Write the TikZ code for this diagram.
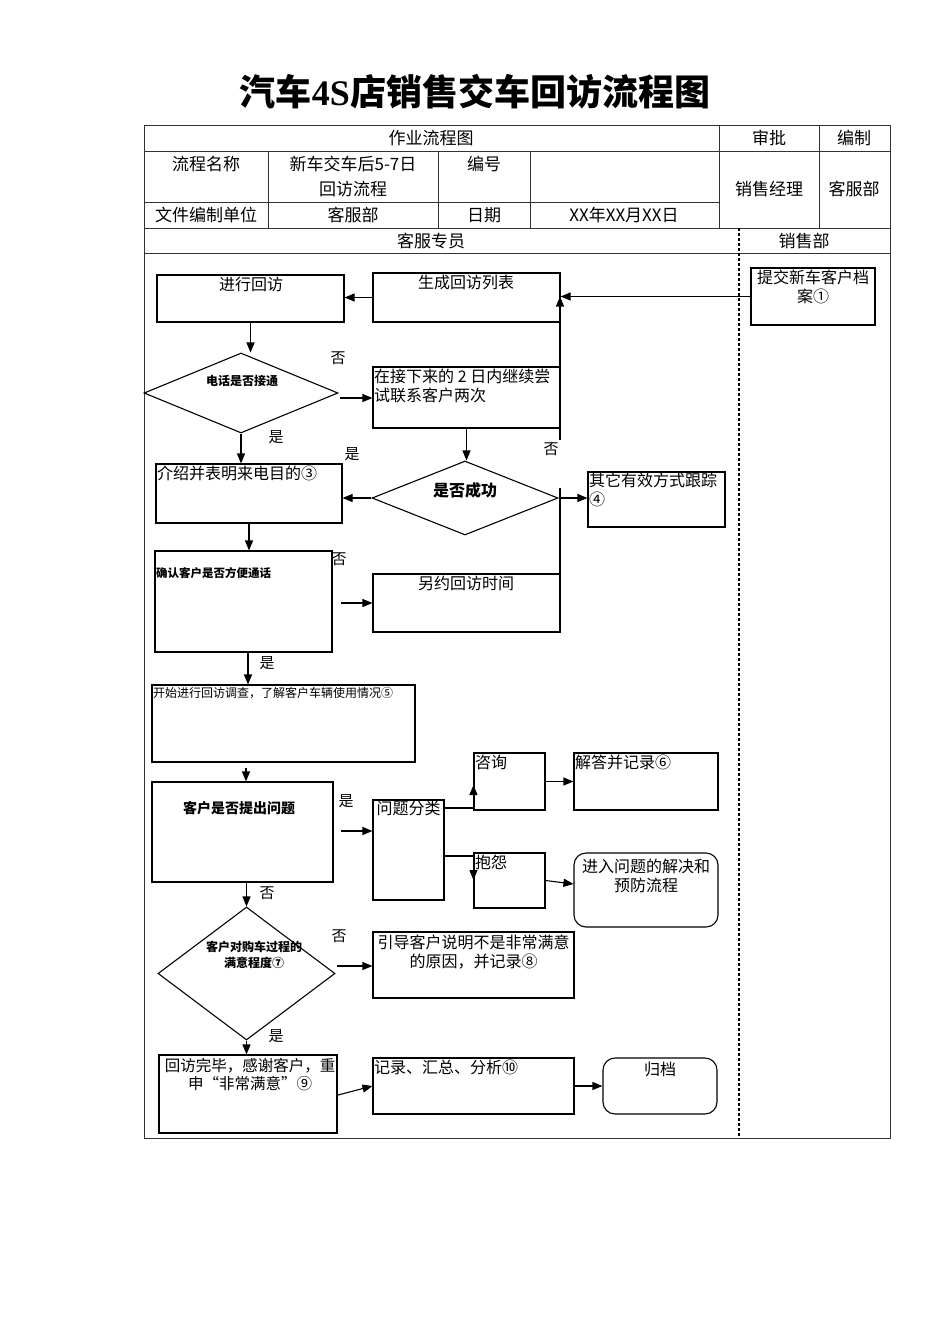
\documentclass[tikz,border=0pt]{standalone}
\usepackage{fontspec}
\newfontfamily\cjk{Noto Sans CJK SC}
\newfontfamily\lat{Liberation Serif}
\usetikzlibrary{arrows.meta,shapes.geometric,calc}
\begin{document}
\begin{tikzpicture}[x=1pt,y=-1pt,
 box/.style={draw, line width=1.1pt, inner sep=0pt, rectangle},
 rbox/.style={box, rounded corners=12pt},
 dia/.style={draw, line width=1.1pt, diamond, inner sep=0pt},
 arr/.style={line width=1.1pt, -{Triangle[length=10pt,width=8pt]}},
 ln/.style={line width=1.1pt},
 tline/.style={line width=0.9pt, draw=black!80},
 ht/.style={font=\cjk\fontsize{17}{21}\selectfont, inner sep=0pt, anchor=center},
 bt/.style={font=\cjk\fontsize{16}{19}\selectfont, inner sep=0pt, align=center},
 bl/.style={font=\cjk\fontsize{16}{19}\selectfont, inner sep=0pt, align=left},
 lbl/.style={font=\cjk\fontsize{15}{18}\selectfont, inner sep=0pt},
]
\useasboundingbox (0,0) rectangle (950,1344);
\fill[white] (0,0) rectangle (950,1344);

% title
\node[font=\cjk\bfseries\fontsize{36}{40}\selectfont, inner sep=0pt] (title) at (475,92) {汽车{\lat\bfseries 4S}店销售交车回访流程图};

% table frame
\draw[tline] (144,125) rectangle (890,1138);
\draw[tline] (144,151) -- (890,151);
\draw[tline] (144,202) -- (719,202);
\draw[tline] (144,228) -- (890,228);
\draw[tline] (144,253) -- (890,253);
\draw[tline] (268,151) -- (268,228);
\draw[tline] (438,151) -- (438,228);
\draw[tline] (530,151) -- (530,228);
\draw[tline] (719,125) -- (719,228);
\draw[tline] (819,125) -- (819,228);
\draw[line width=1.6pt, dash pattern=on 3pt off 2pt] (739,228) -- (739,1138);

\node[ht] (h1) at (431,138) {作业流程图};
\node[ht] (h2) at (769,138) {审批};
\node[ht] (h3) at (854,138) {编制};
\node[ht] (h4) at (206,164) {流程名称};
\node[ht] (h5) at (353,164) {新车交车后5-7日};
\node[ht] (h6) at (353,189) {回访流程};
\node[ht] (h7) at (484,164) {编号};
\node[ht] (h8) at (769,189) {销售经理};
\node[ht] (h9) at (854,189) {客服部};
\node[ht] (h10) at (206,215) {文件编制单位};
\node[ht] (h11) at (353,215) {客服部};
\node[ht] (h12) at (484,215) {日期};
\node[ht] (h13) at (624,215) {XX年XX月XX日};
\node[ht] (h14) at (431,241) {客服专员};
\node[ht] (h15) at (804,241) {销售部};

% boxes
\node[box, minimum width=124, minimum height=57] (tijiao) at (813,296.5) {};
\node[bt, anchor=north] (tijiaot) at (813,270) {提交新车客户档\\案①};
\node[box, minimum width=187, minimum height=49] (shengcheng) at (466.5,297.5) {};
\node[bt, anchor=north] (shengchengt) at (466,275) {生成回访列表};
\node[box, minimum width=187, minimum height=47] (jinxing) at (250.5,298.5) {};
\node[bt, anchor=north] (jinxingt) at (251,277) {进行回访};
\node[dia, minimum width=194, minimum height=80] (dianhua) at (241,393) {};
\node[font=\cjk\bfseries\fontsize{12}{14}\selectfont, inner sep=0pt] (dianhuat) at (242,381) {电话是否接通};
\node[box, minimum width=187, minimum height=61] (jixu) at (466.5,397.5) {};
\node[bl, anchor=north west] (jixut) at (374,369) {在接下来的 2 日内继续尝\\试联系客户两次};
\node[dia, minimum width=186, minimum height=74] (chenggong) at (465,498) {};
\node[font=\cjk\bfseries\fontsize{16}{19}\selectfont, inner sep=0pt] (chenggongt) at (465,490) {是否成功};
\node[box, minimum width=137, minimum height=55] (qita) at (656.5,499.5) {};
\node[bl, anchor=north west] (qitat) at (589,473) {其它有效方式跟踪\\④};
\node[box, minimum width=186, minimum height=59] (jieshao) at (249,493.5) {};
\node[bl, anchor=north west] (jieshaot) at (157,466) {介绍并表明来电目的③};
\node[box, minimum width=177, minimum height=101] (queren) at (243.5,601.5) {};
\node[font=\cjk\bfseries\fontsize{11.5}{14}\selectfont, inner sep=0pt, anchor=west] (querent) at (156,573) {确认客户是否方便通话};
\node[box, minimum width=187, minimum height=58] (lingyue) at (466.5,603) {};
\node[bt, anchor=north] (lingyuet) at (466,576) {另约回访时间};
\node[box, minimum width=263, minimum height=77] (kaishi) at (283.5,723.5) {};
\node[font=\cjk\fontsize{12}{14}\selectfont, inner sep=0pt, anchor=west] (kaishit) at (153,693) {开始进行回访调查，了解客户车辆使用情况⑤};
\node[box, minimum width=181, minimum height=100] (tichu) at (242.5,832) {};
\node[font=\cjk\bfseries\fontsize{14}{17}\selectfont, inner sep=0pt] (tichut) at (239,808) {客户是否提出问题};
\node[box, minimum width=71, minimum height=100] (fenlei) at (408.5,850) {};
\node[bt, anchor=north] (fenleit) at (408.5,801) {问题分类};
\node[box, minimum width=71, minimum height=57] (zixun) at (509.5,781.5) {};
\node[bl, anchor=north west] (zixunt) at (475,755) {咨询};
\node[box, minimum width=144, minimum height=57] (jieda) at (646,781.5) {};
\node[bl, anchor=north west] (jiedat) at (575,755) {解答并记录⑥};
\node[box, minimum width=71, minimum height=55] (baoyuan) at (509.5,880.5) {};
\node[bl, anchor=north west] (baoyuant) at (475,855) {抱怨};
\node[rbox, minimum width=144, minimum height=74] (jinru) at (646,890) {};
\node[bt, anchor=north] (jinrut) at (646,859) {进入问题的解决和\\预防流程};
\node[dia, minimum width=177, minimum height=133] (manyi) at (246.5,973.5) {};
\node[font=\cjk\bfseries\fontsize{12}{16}\selectfont, inner sep=0pt, align=center] (manyit) at (254,955) {客户对购车过程的\\满意程度⑦};
\node[box, minimum width=201, minimum height=66] (yindao) at (473.5,965) {};
\node[bt, anchor=north] (yindaot) at (473.5,935) {引导客户说明不是非常满意\\的原因，并记录⑧};
\node[box, minimum width=178, minimum height=78] (wanbi) at (248,1094) {};
\node[font=\cjk\fontsize{15.5}{18.5}\selectfont, inner sep=0pt, align=center, anchor=north] (wanbit) at (250,1058) {回访完毕，感谢客户，重\\申“非常满意”⑨};
\node[box, minimum width=201, minimum height=56] (jilu) at (473.5,1086) {};
\node[bl, anchor=north west] (jilut) at (374,1060) {记录、汇总、分析⑩};
\node[rbox, minimum width=114, minimum height=56] (guidang) at (660,1086) {};
\node[bt, anchor=north] (guidangt) at (660,1062) {归档};

% labels
\node[lbl] (l1) at (338,358) {否};
\node[lbl] (l2) at (276,437) {是};
\node[lbl] (l3) at (352,454) {是};
\node[lbl] (l4) at (551,449) {否};
\node[lbl] (l5) at (339,559) {否};
\node[lbl] (l6) at (267,663) {是};
\node[lbl] (l7) at (346,801) {是};
\node[lbl] (l8) at (267,893) {否};
\node[lbl] (l9) at (339,936) {否};
\node[lbl] (l10) at (276,1036) {是};

% coordinates for free ends
\coordinate (a1) at (340,398);
\coordinate (b1) at (560,440);
\coordinate (b2) at (560,488);
\coordinate (b3) at (560,604);
\coordinate (c1) at (341,603);
\coordinate (d1) at (246,768);
\coordinate (e1) at (341,831);
\coordinate (f1) at (444,808);
\coordinate (f2) at (444,856);
\coordinate (g1) at (337,966);
\coordinate (h1c) at (338,1095);
\coordinate (q1) at (248,652);

% connectors
\draw[arr] (tijiao.west) -- (tijiao.west -| shengcheng.east);
\draw[arr] (shengcheng.west) -- (shengcheng.west -| jinxing.east);
\draw[arr] (jinxing.south) -- (jinxing.south |- dianhua.north);
\draw[arr] (a1) -- (a1 -| jixu.west);
\draw[arr] (dianhua.south) -- (dianhua.south |- jieshao.north);
\draw[arr] (jixu.south) -- (jixu.south |- chenggong.north);
\draw[arr] (b1) -- (b1 |- tijiao.west);
\draw[ln] (b3) -- (b2);
\draw[arr] (chenggong.east) -- (chenggong.east -| qita.west);
\draw[arr] (chenggong.west) -- (chenggong.west -| jieshao.east);
\draw[arr] (jieshao.south) -- (jieshao.south |- queren.north);
\draw[arr] (c1) -- (c1 -| lingyue.west);
\draw[arr] (q1) -- (q1 |- kaishi.north);
\draw[arr] (d1) -- (d1 |- tichu.north);
\draw[arr] (e1) -- (e1 -| fenlei.west);
\draw[arr] (f1) -- (f1 -| zixun.west) -- ++(0,-23);
\draw[arr] (f2) -- (f2 -| baoyuan.west) -- ++(0,24);
\draw[arr] (zixun.east) -- (zixun.east -| jieda.west);
\draw[arr] (baoyuan.east) -- ($(jinru.west)+(0,-6)$);
\draw[arr] (manyi.north |- tichu.south) -- (manyi.north);
\draw[arr] (g1) -- (g1 -| yindao.west);
\draw[arr] (manyi.south) -- (manyi.south |- wanbi.north);
\draw[arr] (h1c) -- (jilu.west);
\draw[arr] (jilu.east) -- (jilu.east -| guidang.west);
\end{tikzpicture}
\end{document}
